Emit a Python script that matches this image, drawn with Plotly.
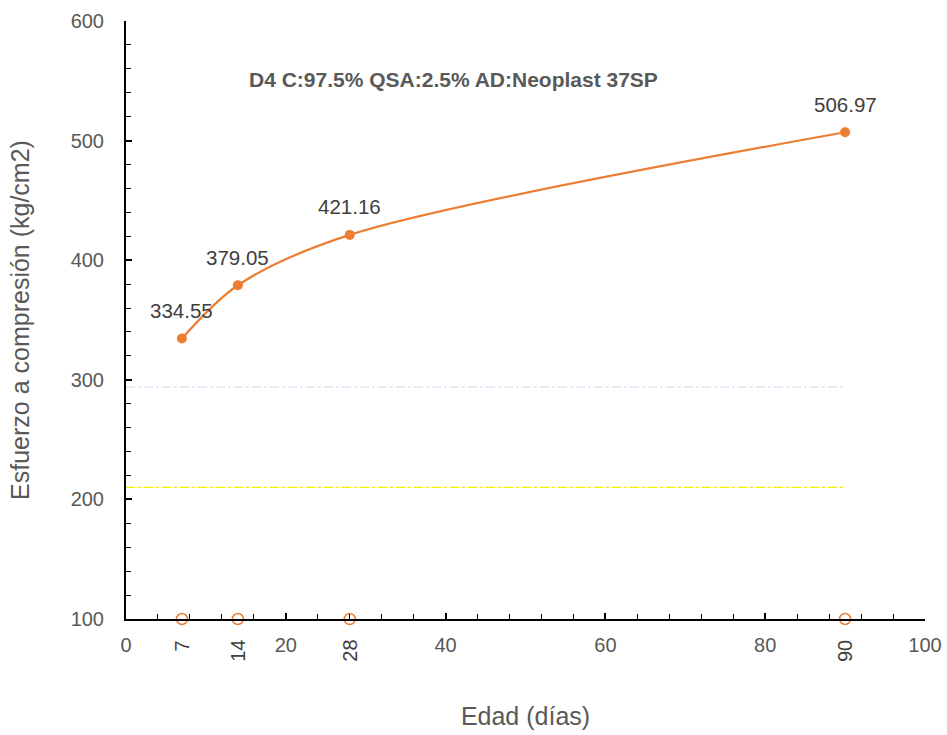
import plotly.graph_objects as go

# Compressive strength vs. age
edad = [7, 14, 28, 90]
resistencia = [334.55, 379.05, 421.16, 506.97]

# Reference design strength lines
ref_x = [0, 90]
fc_diseno = 210
fc_requerido = 294

x_ticks = [0, 20, 40, 60, 80, 100]
y_ticks = [100, 200, 300, 400, 500, 600]

titulo = "D4 C:97.5% QSA:2.5% AD:Neoplast 37SP"

naranja = "#ED7D31"
gris = "#595959"
font_fam = "Liberation Sans, Arial, sans-serif"

fig = go.Figure()

fig.add_trace(go.Scatter(
    x=ref_x, y=[fc_requerido] * 2, mode="lines",
    line=dict(color="#C9DDF0", width=1, dash="dashdot"), hoverinfo="skip"))
fig.add_trace(go.Scatter(
    x=ref_x, y=[fc_diseno] * 2, mode="lines",
    line=dict(color="#F5F000", width=1.3, dash="dashdot"), hoverinfo="skip"))

fig.add_trace(go.Scatter(
    x=edad, y=resistencia, mode="lines+markers",
    line=dict(color=naranja, width=2.2, shape="spline", smoothing=0.9),
    marker=dict(color=naranja, size=10)))

# age markers on the horizontal axis
fig.add_trace(go.Scatter(
    x=edad, y=[100] * len(edad), mode="markers",
    marker=dict(color="rgba(0,0,0,0)", size=11,
                line=dict(color=naranja, width=1.5)),
    cliponaxis=False))

for xv, yv in zip(edad, resistencia):
    fig.add_annotation(x=xv, y=yv, xref="x", yref="y", text=f"{yv:.2f}",
                       showarrow=False, yshift=28,
                       font=dict(size=20.5, color="#404040", family=font_fam))
    fig.add_annotation(x=xv, y=100, xref="x", yref="y", text=str(xv),
                       showarrow=False, textangle=-90, yanchor="top",
                       yshift=-19,
                       font=dict(size=20, color="#404040", family=font_fam))

fig.add_annotation(x=0.41, y=0.925, xref="paper", yref="paper", text=f"<b>{titulo}</b>",
                   showarrow=False, font=dict(size=21, color=gris, family=font_fam))

axis_common = dict(
    showgrid=False, zeroline=False, showline=True, linecolor="black", linewidth=2,
    ticks="inside", ticklen=6, tickwidth=1.5, tickcolor="black",
    tickfont=dict(size=20, color=gris, family=font_fam),
    automargin=False,
)

fig.update_xaxes(
    range=[0, 100], tickvals=x_ticks,
    minor=dict(dtick=4, tick0=0, ticks="inside", ticklen=5, tickcolor="black", tickwidth=1.2),
    title=dict(text="Edad (días)", font=dict(size=25, color=gris, family=font_fam), standoff=52),
    ticklabelstandoff=7,
    **axis_common)
fig.update_yaxes(
    range=[100, 600], tickvals=y_ticks,
    minor=dict(dtick=20, tick0=0, ticks="inside", ticklen=5, tickcolor="black", tickwidth=1.2),
    title=dict(text="Esfuerzo a compresión (kg/cm2)", font=dict(size=25, color=gris, family=font_fam), standoff=34),
    ticklabelstandoff=16,
    **axis_common)

fig.update_layout(
    width=947, height=735,
    margin=dict(l=126, r=22, t=21, b=116),
    paper_bgcolor="white", plot_bgcolor="white",
    showlegend=False,
    font=dict(family=font_fam),
)

fig.write_html("out.html")
